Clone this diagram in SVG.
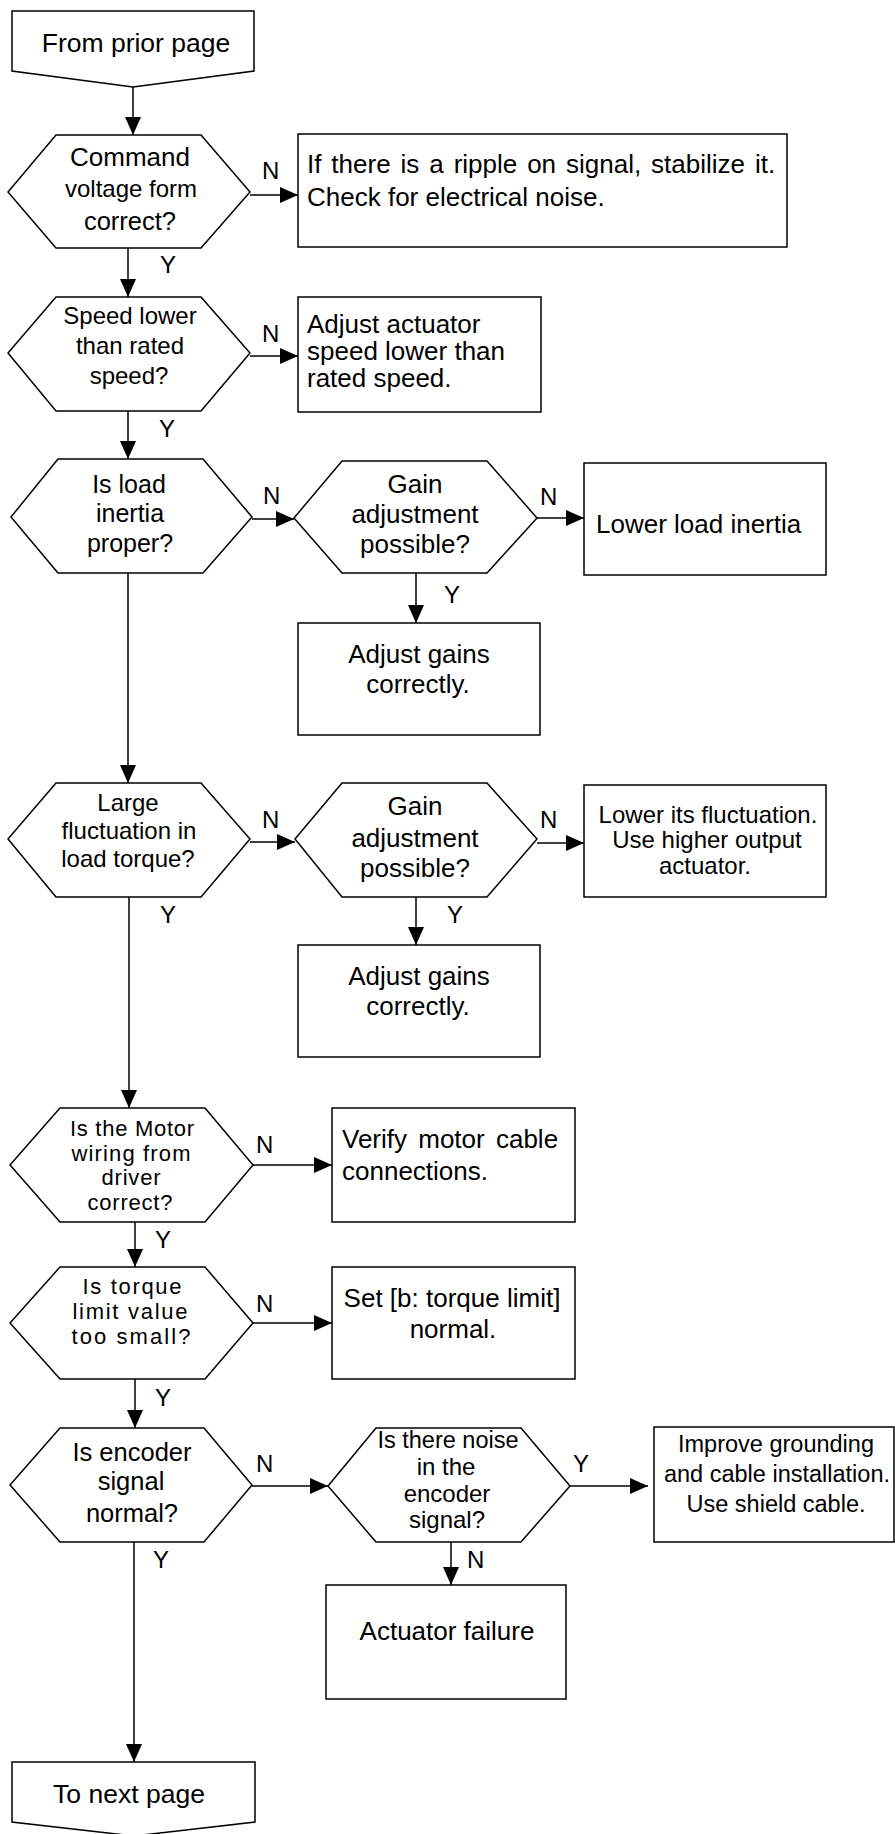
<svg xmlns="http://www.w3.org/2000/svg" width="895" height="1834" viewBox="0 0 895 1834">
<style>
.node polygon,.node rect{fill:#fff;stroke:#000;stroke-width:1.5}
text{font-family:"Liberation Sans",Arial,Helvetica,sans-serif;fill:#000}
.c{text-anchor:middle}
.conn line{stroke:#000;stroke-width:1.5;marker-end:url(#ah)}
.lbl{font-size:24px}
.f22{font-size:22px}.f23{font-size:23.5px}.f24{font-size:24px}.f25{font-size:25px}.f255{font-size:25.5px}.f26{font-size:26px}.f265{font-size:26.5px}
</style>
<defs>
<marker id="ah" markerUnits="userSpaceOnUse" markerWidth="18" markerHeight="16" refX="18" refY="8" orient="auto"><path d="M0,0 L18,8 L0,16 z" fill="#000"/></marker>
</defs>

<g id="connectors" class="conn">
<line x1="133" y1="87" x2="133" y2="135"/>
<line x1="250" y1="195" x2="298" y2="195"/>
<line x1="128" y1="248" x2="128" y2="297"/>
<line x1="250" y1="356" x2="298" y2="356"/>
<line x1="128" y1="411" x2="128" y2="459"/>
<line x1="252" y1="519" x2="294" y2="519"/>
<line x1="537" y1="518" x2="584" y2="518"/>
<line x1="416" y1="573" x2="416" y2="623"/>
<line x1="128" y1="573" x2="128" y2="783"/>
<line x1="250" y1="842" x2="295" y2="842"/>
<line x1="537" y1="843" x2="584" y2="843"/>
<line x1="416" y1="897" x2="416" y2="945"/>
<line x1="129" y1="897" x2="129" y2="1108"/>
<line x1="253" y1="1165" x2="332" y2="1165"/>
<line x1="135" y1="1222" x2="135" y2="1267"/>
<line x1="253" y1="1323" x2="332" y2="1323"/>
<line x1="135" y1="1379" x2="135" y2="1428"/>
<line x1="252" y1="1486" x2="328" y2="1486"/>
<line x1="570" y1="1486" x2="648" y2="1486"/>
<line x1="451" y1="1542" x2="451" y2="1585"/>
<line x1="134" y1="1542" x2="134" y2="1762"/>
<g class="lbl">
<text x="262" y="179">N</text>
<text x="160" y="273">Y</text>
<text x="262" y="342">N</text>
<text x="159" y="437">Y</text>
<text x="263" y="504">N</text>
<text x="540" y="505">N</text>
<text x="444" y="603">Y</text>
<text x="262" y="828">N</text>
<text x="540" y="828">N</text>
<text x="447" y="923">Y</text>
<text x="160" y="923">Y</text>
<text x="256" y="1153">N</text>
<text x="155" y="1248">Y</text>
<text x="256" y="1312">N</text>
<text x="155" y="1406">Y</text>
<text x="256" y="1472">N</text>
<text x="573" y="1472">Y</text>
<text x="467" y="1568">N</text>
<text x="153" y="1568">Y</text>
</g>
</g>

<g id="start" class="node">
<polygon points="12,11 254,11 254,71 133,87 12,71"/>
<text class="c f265" x="136" y="52">From prior page</text>
</g>

<g id="q-command" class="node">
<polygon points="8,192 56,135 201,135 250,192 201,248 56,248"/>
<text class="c f26" x="130" y="166">Command</text>
<text class="c f24" x="131" y="197">voltage form</text>
<text class="c f255" x="130" y="230">correct?</text>
</g>

<g id="a-ripple" class="node">
<rect x="298" y="134" width="489" height="113"/>
<text class="f26" x="307" y="173" word-spacing="2.7">If there is a ripple on signal, stabilize it.</text>
<text class="f26" x="307" y="206">Check for electrical noise.</text>
</g>

<g id="q-speed" class="node">
<polygon points="8,353 56,297 201,297 250,353 201,411 56,411"/>
<text class="c f24" x="130" y="324">Speed lower</text>
<text class="c f24" x="130" y="354">than rated</text>
<text class="c f24" x="129" y="384">speed?</text>
</g>

<g id="a-speed" class="node">
<rect x="298" y="297" width="243" height="115"/>
<text class="f26" x="307" y="333">Adjust actuator</text>
<text class="f26" x="307" y="360">speed lower than</text>
<text class="f26" x="307" y="387">rated speed.</text>
</g>

<g id="q-inertia" class="node">
<polygon points="11,517 58,459 203,459 252,517 203,573 58,573"/>
<text class="c f25" x="129" y="493">Is load</text>
<text class="c f25" x="130" y="522">inertia</text>
<text class="c f25" x="130" y="552">proper?</text>
</g>

<g id="q-gain1" class="node">
<polygon points="294,518 342,461 487,461 537,518 487,573 342,573"/>
<text class="c f26" x="415" y="493">Gain</text>
<text class="c f26" x="415" y="523">adjustment</text>
<text class="c f26" x="415" y="553">possible?</text>
</g>

<g id="a-inertia" class="node">
<rect x="584" y="463" width="242" height="112"/>
<text class="f26" x="596" y="533">Lower load inertia</text>
</g>

<g id="a-gains1" class="node">
<rect x="298" y="623" width="242" height="112"/>
<text class="c f26" x="419" y="663">Adjust gains</text>
<text class="c f26" x="418" y="693">correctly.</text>
</g>

<g id="q-torque" class="node">
<polygon points="8,839 56,783 201,783 250,839 201,897 56,897"/>
<text class="c f24" x="128" y="811">Large</text>
<text class="c f24" x="129" y="839">fluctuation in</text>
<text class="c f24" x="128" y="867">load torque?</text>
</g>

<g id="q-gain2" class="node">
<polygon points="295,839 342,783 487,783 537,839 487,897 342,897"/>
<text class="c f26" x="415" y="815">Gain</text>
<text class="c f26" x="415" y="847">adjustment</text>
<text class="c f26" x="415" y="877">possible?</text>
</g>

<g id="a-fluct" class="node">
<rect x="584" y="785" width="242" height="112"/>
<text class="c f24" x="708" y="823">Lower its fluctuation.</text>
<text class="c f24" x="707" y="848">Use higher output</text>
<text class="c f24" x="705" y="874">actuator.</text>
</g>

<g id="a-gains2" class="node">
<rect x="298" y="945" width="242" height="112"/>
<text class="c f26" x="419" y="985">Adjust gains</text>
<text class="c f26" x="418" y="1015">correctly.</text>
</g>

<g id="q-wiring" class="node">
<polygon points="10,1165 60,1108 205,1108 253,1165 205,1222 60,1222"/>
<text class="c f22" x="132" y="1136" textLength="124" lengthAdjust="spacing">Is the Motor</text>
<text class="c f22" x="131" y="1161" textLength="119" lengthAdjust="spacing">wiring from</text>
<text class="c f22" x="131" y="1185" textLength="59" lengthAdjust="spacing">driver</text>
<text class="c f22" x="130" y="1210" textLength="85" lengthAdjust="spacing">correct?</text>
</g>

<g id="a-wiring" class="node">
<rect x="332" y="1108" width="243" height="114"/>
<text class="f26" x="342" y="1148" word-spacing="4">Verify motor cable</text>
<text class="f26" x="342" y="1180">connections.</text>
</g>

<g id="q-limit" class="node">
<polygon points="10,1323 60,1267 205,1267 253,1323 205,1379 60,1379"/>
<text class="c f22" x="132" y="1294" textLength="99" lengthAdjust="spacing">Is torque</text>
<text class="c f22" x="130" y="1319" textLength="115" lengthAdjust="spacing">limit value</text>
<text class="c f22" x="131" y="1344" textLength="119" lengthAdjust="spacing">too small?</text>
</g>

<g id="a-limit" class="node">
<rect x="332" y="1267" width="243" height="112"/>
<text class="c f26" x="452" y="1307">Set [b: torque limit]</text>
<text class="c f26" x="453" y="1338">normal.</text>
</g>

<g id="q-encoder" class="node">
<polygon points="10,1485 60,1428 204,1428 252,1485 204,1542 60,1542"/>
<text class="c f255" x="132" y="1461">Is encoder</text>
<text class="c f255" x="131" y="1490">signal</text>
<text class="c f255" x="132" y="1522">normal?</text>
</g>

<g id="q-noise" class="node">
<polygon points="328,1486 376,1428 521,1428 570,1486 521,1542 376,1542"/>
<text class="c f23" x="448" y="1448">Is there noise</text>
<text class="c f24" x="446" y="1475">in the</text>
<text class="c f24" x="447" y="1502">encoder</text>
<text class="c f24" x="447" y="1528">signal?</text>
</g>

<g id="a-noise" class="node">
<rect x="654" y="1427" width="240" height="115"/>
<text class="c f23" x="776" y="1452">Improve grounding</text>
<text class="c f23" x="777" y="1482">and cable installation.</text>
<text class="c f23" x="776" y="1512">Use shield cable.</text>
</g>

<g id="a-failure" class="node">
<rect x="326" y="1585" width="240" height="114"/>
<text class="c f26" x="447" y="1640">Actuator failure</text>
</g>

<g id="end" class="node">
<polygon points="12,1762 255,1762 255,1822 134,1836 12,1822"/>
<text class="c f265" x="129" y="1803">To next page</text>
</g>
</svg>
